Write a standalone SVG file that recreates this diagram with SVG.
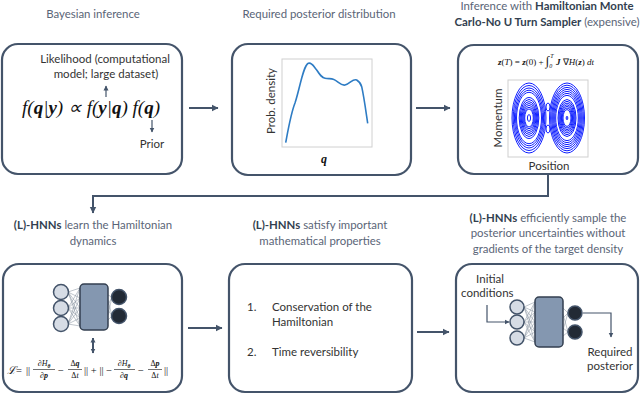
<svg xmlns="http://www.w3.org/2000/svg" width="640" height="395" viewBox="0 0 640 395">
<defs>
<style>
.box{fill:#fff;stroke:#44546a;stroke-width:2.2}
.conn{fill:none;stroke:#44546a;stroke-width:2}
.thin{fill:none;stroke:#44546a;stroke-width:1.2}
.title{font-family:Lato,"Liberation Sans",sans-serif;font-size:11.4px;fill:#5a6577;text-anchor:middle}
.title tspan.b{font-weight:bold;fill:#333f50}
.txt{font-family:Lato,"Liberation Sans",sans-serif;font-size:11.5px;fill:#333}
.math{font-family:"Liberation Serif",serif;font-style:italic;fill:#111}
.mb{font-weight:bold}
.inp{fill:#d6dce5;stroke:#44546a;stroke-width:1.5}
.hid{fill:#8497b0;stroke:#333f50;stroke-width:1.5}
.out{fill:#222a35;stroke:#44546a;stroke-width:1.5}
.wire{stroke:#7f8a99;stroke-width:0.5}
.ring{fill:none;stroke:#1020ff;stroke-width:1}
</style>
<marker id="ah" markerWidth="8" markerHeight="8" refX="6" refY="4" orient="auto" markerUnits="userSpaceOnUse">
<path d="M0,0.8 L6.5,4 L0,7.2 Z" fill="#44546a"/>
</marker>
<marker id="ahs" markerWidth="6" markerHeight="6" refX="4.5" refY="3" orient="auto" markerUnits="userSpaceOnUse">
<path d="M0,0.5 L5,3 L0,5.5 Z" fill="#44546a"/>
</marker>
<marker id="ahs0" markerWidth="6" markerHeight="6" refX="0.5" refY="3" orient="auto" markerUnits="userSpaceOnUse">
<path d="M5,0.5 L0,3 L5,5.5 Z" fill="#44546a"/>
</marker>
</defs>

<!-- Titles -->
<g id="titles">
<text class="title" x="93" y="18">Bayesian inference</text>
<text class="title" x="319" y="18">Required posterior distribution</text>
<text class="title" x="547" y="10">Inference with <tspan class="b">Hamiltonian Monte</tspan></text>
<text class="title" x="547" y="26"><tspan class="b">Carlo-No U Turn Sampler</tspan> (expensive)</text>
<text class="title" x="93" y="229"><tspan class="b">(L)-HNNs</tspan> learn the Hamiltonian</text>
<text class="title" x="93" y="245">dynamics</text>
<text class="title" x="320" y="229"><tspan class="b">(L)-HNNs</tspan> satisfy important</text>
<text class="title" x="320" y="245">mathematical properties</text>
<text class="title" x="548" y="222"><tspan class="b">(L)-HNNs</tspan> efficiently sample the</text>
<text class="title" x="548" y="237">posterior uncertainties without</text>
<text class="title" x="548" y="253">gradients of the target density</text>
</g>

<!-- Node 1: Bayesian inference -->
<g id="node-bayes">
<rect class="box" x="2" y="44" width="180" height="130" rx="16"/>
<text class="txt" x="105" y="63" text-anchor="middle">Likelihood (computational</text>
<text class="txt" x="106" y="78" text-anchor="middle">model; large dataset)</text>
<line class="thin" x1="106" y1="97" x2="106" y2="86" marker-end="url(#ahs)"/>
<text class="math" x="91" y="114" font-size="19" text-anchor="middle">f(<tspan class="mb">q</tspan>|<tspan class="mb">y</tspan>) ∝ f(<tspan class="mb">y</tspan>|<tspan class="mb">q</tspan>) f(<tspan class="mb">q</tspan>)</text>
<line class="thin" x1="152" y1="120" x2="152" y2="132" marker-end="url(#ahs)"/>
<text class="txt" x="152" y="148" text-anchor="middle">Prior</text>
</g>

<!-- Node 2: posterior -->
<g id="node-posterior">
<rect class="box" x="232" y="44" width="179" height="131" rx="16"/>
<rect x="282" y="59" width="90" height="88" fill="#fff" stroke="#d0d0d0" stroke-width="1"/>
<path d="M285.7,142.7 C289,125 291,113 295,103 C300,88 303,66 308.3,63.3 C312,62 314,67 316.7,70 C320,75 322,78 325,78.3 C329,79 331,78 333.3,79.3 C338,81 341,86 345,85 C350,84 353,78 356.7,80 C360,82 361,84 361.7,86.7 C364,97 366,112 367.7,123.3" fill="none" stroke="#2e7cc4" stroke-width="1.6"/>
<text class="txt" transform="translate(275,101) rotate(-90)" text-anchor="middle" font-size="11">Prob. density</text>
<text class="math mb" x="324" y="163" font-size="12" text-anchor="middle">q</text>
</g>

<!-- Node 3: HMC -->
<g id="node-hmc">
<rect class="box" x="458" y="45" width="180" height="129" rx="16"/>
<text class="math" x="546" y="65" font-size="9" text-anchor="middle"><tspan class="mb">z</tspan><tspan font-style="normal">(</tspan>T<tspan font-style="normal">) = </tspan><tspan class="mb">z</tspan><tspan font-style="normal">(0) + </tspan><tspan font-style="normal" font-size="13">∫</tspan><tspan font-size="6" dy="3">0</tspan><tspan font-size="6" dy="-10" dx="-2">T</tspan><tspan dy="7"> </tspan><tspan class="mb">J</tspan><tspan font-style="normal"> ∇</tspan>H<tspan font-style="normal">(</tspan><tspan class="mb">z</tspan><tspan font-style="normal">)</tspan> dt</text>
<rect x="508" y="80" width="80" height="77" fill="#fff" stroke="#cfcfcf" stroke-width="1"/>
<g id="phase">
<g transform="translate(529,118)">
<ellipse class="ring" rx="17" ry="35"/><ellipse class="ring" rx="15.8" ry="32.5"/><ellipse class="ring" rx="14.6" ry="30"/><ellipse class="ring" rx="13.5" ry="27.8"/><ellipse class="ring" rx="12.5" ry="25.7"/>
<ellipse class="ring" rx="9.8" ry="20.5"/><ellipse class="ring" rx="8.8" ry="18.5"/><ellipse class="ring" rx="7.8" ry="16.4"/><ellipse class="ring" rx="6.9" ry="14.5"/><ellipse class="ring" rx="6" ry="12.6"/><ellipse class="ring" rx="5.1" ry="10.7"/><ellipse class="ring" rx="4.3" ry="9"/>
<ellipse class="ring" rx="1.6" ry="3.4" stroke-width="1.2"/>
</g>
<g transform="translate(567,118)">
<ellipse class="ring" rx="17.5" ry="35"/><ellipse class="ring" rx="16.4" ry="32.8"/><ellipse class="ring" rx="15.3" ry="30.6"/><ellipse class="ring" rx="14.3" ry="28.6"/><ellipse class="ring" rx="13.3" ry="26.6"/><ellipse class="ring" rx="12.3" ry="24.6"/><ellipse class="ring" rx="11.3" ry="22.6"/>
<ellipse class="ring" rx="9" ry="18.5"/><ellipse class="ring" rx="8.1" ry="16.7"/><ellipse class="ring" rx="7.2" ry="14.9"/><ellipse class="ring" rx="6.4" ry="13.2"/><ellipse class="ring" rx="5.6" ry="11.6"/><ellipse class="ring" rx="4.8" ry="10"/><ellipse class="ring" rx="4" ry="8.4"/>
<ellipse class="ring" rx="0.8" ry="1.8"/>
</g>
<ellipse class="ring" cx="548" cy="107" rx="2" ry="4"/>
<ellipse class="ring" cx="548" cy="129" rx="2" ry="4"/>
</g>
<text class="txt" transform="translate(502,118) rotate(-90)" text-anchor="middle" font-size="12.5" fill="#222">Momentum</text>
<text class="txt" x="549" y="170" text-anchor="middle" font-size="12.5" fill="#222">Position</text>
</g>

<!-- Node 4: learn dynamics -->
<g id="node-learn">
<rect class="box" x="3" y="264" width="179" height="128" rx="16"/>
<g class="wire">
<path d="M68,292 L80,288 M68,292 L80,298 M68,292 L80,308 M68,292 L80,318 M68,292 L80,326 M68,308 L80,288 M68,308 L80,298 M68,308 L80,308 M68,308 L80,318 M68,308 L80,326 M68,324 L80,288 M68,324 L80,298 M68,324 L80,308 M68,324 L80,318 M68,324 L80,326 M108,295 L112,297 M108,305 L112,297 M108,310 L112,316 M108,320 L112,316 M108,300 L112,316 M108,315 L112,297"/>
</g>
<circle class="inp" cx="61" cy="292" r="7.5"/>
<circle class="inp" cx="61" cy="308" r="7.5"/>
<circle class="inp" cx="61" cy="324" r="7.5"/>
<rect class="hid" x="80" y="284" width="28" height="46" rx="4"/>
<circle class="out" cx="119" cy="297" r="7.5"/>
<circle class="out" cx="119" cy="316" r="7.5"/>
<line class="conn" x1="93" y1="338" x2="93" y2="353" stroke-width="1.6" marker-start="url(#ahs0)" marker-end="url(#ahs)"/>
<g class="math" font-size="10.5">
<text x="7" y="374" font-family="DejaVu Serif,serif" font-size="11">ℒ</text>
<text x="16" y="374" font-style="normal">=</text>
<text x="26" y="374" font-style="normal">||</text>
<text x="44" y="366" font-size="8" text-anchor="middle"><tspan font-style="normal">∂</tspan>H<tspan font-size="5.5" dy="1.5" class="mb">θ</tspan></text>
<line x1="33" y1="369.5" x2="55" y2="369.5" stroke="#111" stroke-width="0.6"/>
<text x="44" y="378" font-size="8" text-anchor="middle"><tspan font-style="normal">∂</tspan><tspan class="mb">p</tspan></text>
<text x="58" y="374" font-style="normal">−</text>
<text x="75" y="366" font-size="8" text-anchor="middle"><tspan font-style="normal">Δ</tspan><tspan class="mb">q</tspan></text>
<line x1="68" y1="369.5" x2="82" y2="369.5" stroke="#111" stroke-width="0.6"/>
<text x="75" y="378" font-size="8" text-anchor="middle"><tspan font-style="normal">Δ</tspan>t</text>
<text x="84" y="374" font-style="normal">|| + || −</text>
<text x="124" y="366" font-size="8" text-anchor="middle"><tspan font-style="normal">∂</tspan>H<tspan font-size="5.5" dy="1.5" class="mb">θ</tspan></text>
<line x1="114" y1="369.5" x2="135" y2="369.5" stroke="#111" stroke-width="0.6"/>
<text x="124" y="378" font-size="8" text-anchor="middle"><tspan font-style="normal">∂</tspan><tspan class="mb">q</tspan></text>
<text x="138" y="374" font-style="normal">−</text>
<text x="155" y="366" font-size="8" text-anchor="middle"><tspan font-style="normal">Δ</tspan><tspan class="mb">p</tspan></text>
<line x1="148" y1="369.5" x2="162" y2="369.5" stroke="#111" stroke-width="0.6"/>
<text x="155" y="378" font-size="8" text-anchor="middle"><tspan font-style="normal">Δ</tspan>t</text>
<text x="164" y="374" font-style="normal">||</text>
</g>
</g>

<!-- Node 5: properties -->
<g id="node-properties">
<rect class="box" x="229" y="264" width="183" height="128" rx="16"/>
<text class="txt" x="247" y="311" font-size="12.3">1.</text>
<text class="txt" x="272" y="311" font-size="12.3">Conservation of the</text>
<text class="txt" x="272" y="326" font-size="12.3">Hamiltonian</text>
<text class="txt" x="247" y="356" font-size="12.3">2.</text>
<text class="txt" x="272" y="356" font-size="12.3">Time reversibility</text>
</g>

<!-- Node 6: sampling -->
<g id="node-sample">
<rect class="box" x="456" y="264" width="182" height="128" rx="16"/>
<text class="txt" x="490" y="283" text-anchor="middle" font-size="12">Initial</text>
<text class="txt" x="461" y="297" font-size="12">conditions</text>
<g class="wire">
<path d="M524,307 L535,302 M524,307 L535,312 M524,307 L535,322 M524,307 L535,332 M524,307 L535,342 M524,322 L535,302 M524,322 L535,312 M524,322 L535,322 M524,322 L535,332 M524,322 L535,342 M524,338 L535,302 M524,338 L535,312 M524,338 L535,322 M524,338 L535,332 M524,338 L535,342 M563,308 L568,313 M563,318 L568,313 M563,328 L568,332 M563,336 L568,332 M563,314 L568,332 M563,330 L568,313"/>
</g>
<circle class="inp" cx="517" cy="307" r="7"/>
<circle class="inp" cx="517" cy="322" r="7"/>
<circle class="inp" cx="517" cy="338" r="7"/>
<rect class="hid" x="535" y="297" width="28" height="50" rx="4"/>
<circle class="out" cx="575" cy="313" r="7"/>
<circle class="out" cx="575" cy="332" r="7"/>
<path class="thin" d="M487,305 V322 H509" stroke-width="1.4" marker-end="url(#ahs)"/>
<path class="thin" d="M583,313 H611 V337" stroke-width="1.4" marker-end="url(#ahs)"/>
<text class="txt" x="610" y="356" text-anchor="middle" font-size="12">Required</text>
<text class="txt" x="610" y="370" text-anchor="middle" font-size="12">posterior</text>
</g>

<!-- Connectors -->
<g id="connectors">
<line class="conn" x1="189" y1="108" x2="218" y2="108" marker-end="url(#ah)"/>
<line class="conn" x1="416" y1="108" x2="450" y2="108" marker-end="url(#ah)"/>
<path class="conn" d="M548,175 V196 H93 V213" marker-end="url(#ah)"/>
<line class="conn" x1="188" y1="328" x2="222" y2="328" marker-end="url(#ah)"/>
<line class="conn" x1="417" y1="332" x2="449" y2="332" marker-end="url(#ah)"/>
</g>
</svg>
